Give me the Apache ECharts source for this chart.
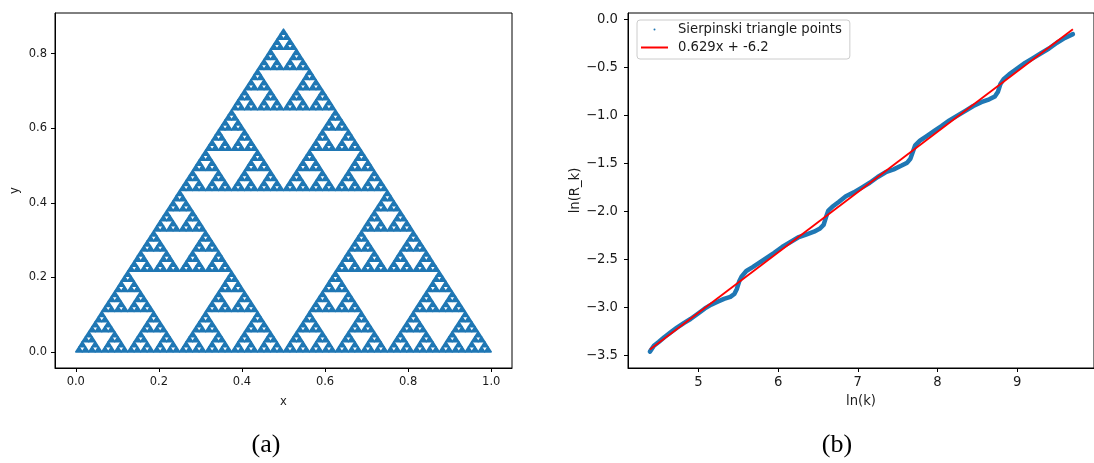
<!DOCTYPE html>
<html>
<head>
<meta charset="utf-8">
<script src="https://cdn.jsdelivr.net/npm/echarts@6/dist/echarts.min.js"></script>
<style>
  html, body { margin: 0; padding: 0; background: #ffffff; }
  #chart { width: 1094px; height: 463px; }
</style>
</head>
<body>
<div id="chart"></div>
<script>
// ---- Panel (a): Sierpinski triangle ----
const triangleCorners = [[0, 0], [1, 0], [0.5, 0.866]];
const subdivisionDepth = 6;
const xTicksA = [0, 0.2, 0.4, 0.6, 0.8, 1.0];
const yTicksA = [0, 0.2, 0.4, 0.6, 0.8];

// ---- Panel (b): ln(R_k) against ln(k) with a straight-line fit ----
const lnK = [4.39, 4.44, 4.50, 4.57, 4.65, 4.73, 4.82, 4.90, 5.00, 5.08,
             5.16, 5.24, 5.32, 5.40, 5.45, 5.48, 5.51, 5.54, 5.60, 5.68,
             5.77, 5.86, 5.95, 6.05, 6.15, 6.25, 6.35, 6.45, 6.52, 6.57,
             6.60, 6.63, 6.68, 6.76, 6.85, 6.95, 7.05, 7.15, 7.25, 7.35,
             7.45, 7.55, 7.62, 7.66, 7.69, 7.72, 7.78, 7.87, 7.96, 8.05,
             8.15, 8.25, 8.35, 8.45, 8.55, 8.65, 8.72, 8.76, 8.79, 8.83,
             8.90, 9.00, 9.10, 9.20, 9.30, 9.40, 9.50, 9.60, 9.70];
const lnR = [-3.46, -3.40, -3.36, -3.31, -3.26, -3.21, -3.16, -3.12, -3.06, -3.01,
             -2.97, -2.94, -2.91, -2.89, -2.86, -2.81, -2.73, -2.68, -2.62, -2.58,
             -2.53, -2.48, -2.43, -2.37, -2.32, -2.27, -2.24, -2.21, -2.18, -2.14,
             -2.06, -1.99, -1.95, -1.90, -1.84, -1.80, -1.75, -1.70, -1.64, -1.59,
             -1.56, -1.52, -1.49, -1.45, -1.38, -1.31, -1.26, -1.21, -1.16, -1.11,
             -1.05, -1.00, -0.95, -0.90, -0.86, -0.83, -0.80, -0.75, -0.67, -0.62,
             -0.57, -0.51, -0.45, -0.40, -0.35, -0.30, -0.24, -0.19, -0.15];
const fitSlope = 0.629;
const fitIntercept = -6.2;
const xTicksB = [5, 6, 7, 8, 9];
const yTicksB = [0, -0.5, -1.0, -1.5, -2.0, -2.5, -3.0, -3.5];

const pointsName = 'Sierpinski triangle points';
const fitName = fitSlope + 'x + ' + fitIntercept;

// Split the outer triangle into its filled sub-triangles
function subdivide(a, b, c, depth, out) {
  if (depth === 0) { out.push([a[0], a[1], b[0], b[1], c[0], c[1]]); return; }
  const ab = [(a[0] + b[0]) / 2, (a[1] + b[1]) / 2];
  const bc = [(b[0] + c[0]) / 2, (b[1] + c[1]) / 2];
  const ca = [(c[0] + a[0]) / 2, (c[1] + a[1]) / 2];
  subdivide(a, ab, ca, depth - 1, out);
  subdivide(ab, b, bc, depth - 1, out);
  subdivide(ca, bc, c, depth - 1, out);
}
const cells = [];
subdivide(triangleCorners[0], triangleCorners[1], triangleCorners[2], subdivisionDepth, cells);

const curve = lnK.map((x, i) => [x, lnR[i]]);
const xFirst = lnK[0], xLast = lnK[lnK.length - 1];
const fitLine = [[xFirst, fitSlope * xFirst + fitIntercept], [xLast, fitSlope * xLast + fitIntercept]];

const BLUE = '#1f77b4';
const INK = '#1a1a1a';
const SANS = 'DejaVu Sans';
const FS_A = 11.5;   // text size in panel (a)
const FS_B = 13.2;   // text size in panel (b)
const fmtMinus = v => (v < 0 ? '\u2212' : '') + Math.abs(v).toFixed(1);

function valueAxis(opts) {
  return Object.assign({
    type: 'value',
    splitLine: { show: false },
    axisLine: { show: true, onZero: false, lineStyle: { color: '#000', width: 1 } },
    nameLocation: 'middle'
  }, opts);
}

const chart = echarts.init(document.getElementById('chart'), null, { renderer: 'canvas' });
chart.setOption({
  animation: false,
  backgroundColor: '#ffffff',
  grid: [
    { left: 55, top: 13, width: 457, height: 355, show: true, borderColor: '#000', borderWidth: 1, backgroundColor: 'transparent' },
    { left: 628, top: 13, width: 466, height: 355, show: true, borderColor: '#000', borderWidth: 1, backgroundColor: 'transparent' }
  ],
  xAxis: [
    valueAxis({
      gridIndex: 0, min: -0.05, max: 1.05, name: 'x', nameGap: 28,
      nameTextStyle: { fontFamily: SANS, fontSize: FS_A, color: INK },
      axisTick: { show: true, length: 4, customValues: xTicksA, lineStyle: { color: '#000' } },
      axisLabel: { customValues: xTicksA, margin: 8, fontFamily: SANS, fontSize: FS_A, color: INK, formatter: v => v.toFixed(1) }
    }),
    valueAxis({
      gridIndex: 1, min: 4.115, max: 9.965, name: 'ln(k)', nameGap: 27,
      nameTextStyle: { fontFamily: SANS, fontSize: FS_B, color: INK },
      axisTick: { show: true, length: 4, customValues: xTicksB, lineStyle: { color: '#000' } },
      axisLabel: { customValues: xTicksB, margin: 8, fontFamily: SANS, fontSize: FS_B, color: INK, formatter: v => String(v) }
    })
  ],
  yAxis: [
    valueAxis({
      gridIndex: 0, min: -0.0433, max: 0.9093, name: 'y', nameGap: 34, nameRotate: 90,
      nameTextStyle: { fontFamily: SANS, fontSize: FS_A, color: INK },
      axisTick: { show: true, length: 4, customValues: yTicksA, lineStyle: { color: '#000' } },
      axisLabel: { customValues: yTicksA, margin: 8, fontFamily: SANS, fontSize: FS_A, color: INK, formatter: v => v.toFixed(1) }
    }),
    valueAxis({
      gridIndex: 1, min: -3.631, max: 0.07, name: 'ln(R_k)', nameGap: 46, nameRotate: 90,
      nameTextStyle: { fontFamily: SANS, fontSize: FS_B, color: INK },
      axisTick: { show: true, length: 4, customValues: yTicksB, lineStyle: { color: '#000' } },
      axisLabel: { customValues: yTicksB, margin: 10, fontFamily: SANS, fontSize: FS_B, color: INK, formatter: fmtMinus }
    })
  ],
  legend: {
    left: 637, top: 20,
    orient: 'vertical',
    padding: [3, 8, 5, 4],
    itemGap: 5,
    itemWidth: 27,
    itemHeight: 2,
    borderColor: '#cccccc',
    borderWidth: 1,
    borderRadius: 3,
    backgroundColor: 'rgba(255,255,255,0.8)',
    textStyle: { fontFamily: SANS, fontSize: FS_B, color: INK, padding: [0, 0, 0, 5] },
    data: [
      { name: pointsName, icon: 'circle' },
      { name: fitName, icon: 'rect' }
    ]
  },
  series: [
    {
      type: 'custom',
      xAxisIndex: 0, yAxisIndex: 0,
      silent: true,
      data: cells,
      renderItem: function (params, api) {
        const pts = [];
        for (let k = 0; k < 3; k++) {
          pts.push(api.coord([api.value(2 * k), api.value(2 * k + 1)]));
        }
        return {
          type: 'polygon',
          shape: { points: pts },
          style: { fill: BLUE, stroke: BLUE, lineWidth: 1.6, lineJoin: 'round' }
        };
      }
    },
    {
      name: pointsName,
      type: 'line',
      xAxisIndex: 1, yAxisIndex: 1,
      data: curve,
      showSymbol: false,
      symbol: 'circle',
      color: BLUE,
      lineStyle: { color: BLUE, width: 4.5, cap: 'round', join: 'round' },
      silent: true
    },
    {
      name: fitName,
      type: 'line',
      xAxisIndex: 1, yAxisIndex: 1,
      data: fitLine,
      showSymbol: false,
      color: '#ff0000',
      lineStyle: { color: '#ff0000', width: 1.8 },
      silent: true,
      z: 3
    }
  ],
  graphic: [
    { type: 'text', x: 266, y: 445, style: { text: '(a)', fontFamily: 'Liberation Serif', fontSize: 26, fill: '#000', align: 'center', verticalAlign: 'middle' } },
    { type: 'text', x: 837, y: 445, style: { text: '(b)', fontFamily: 'Liberation Serif', fontSize: 26, fill: '#000', align: 'center', verticalAlign: 'middle' } }
  ]
});
</script>
</body>
</html>
